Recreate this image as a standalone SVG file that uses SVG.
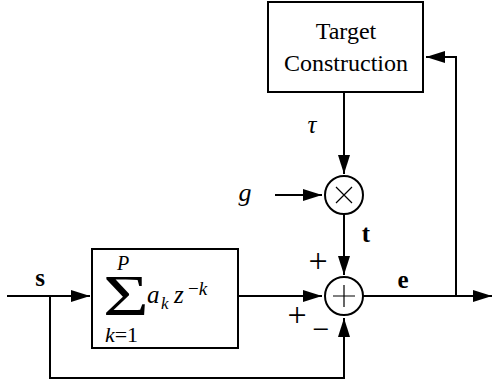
<svg xmlns="http://www.w3.org/2000/svg" width="493" height="385" viewBox="0 0 493 385">
<style>
.box{fill:#fff;stroke:#000;stroke-width:2}
.circ{fill:#fff;stroke:#000;stroke-width:2}
.thin{stroke:#000;stroke-width:1.2;fill:none}
.wire{stroke:#000;stroke-width:2;fill:none}
.arr{marker-end:url(#ah)}
text{font-family:'Liberation Serif','Times New Roman','DejaVu Serif',serif;fill:#000}
.i{font-style:italic}
.b{font-weight:bold}
</style>
<defs>
<marker id="ah" markerUnits="userSpaceOnUse" markerWidth="20" markerHeight="14" refX="19" refY="6" orient="auto">
<path d="M0,0 L19,6 L0,12 Z" fill="#000"/>
</marker>
</defs>
<rect width="493" height="385" fill="#fff"/>
<g id="connectors">
<line class="wire arr" x1="344" y1="92" x2="344" y2="174"/>
<line class="wire arr" x1="275" y1="195" x2="322" y2="195"/>
<line class="wire arr" x1="344" y1="214" x2="344" y2="275"/>
<line class="wire arr" x1="7" y1="296" x2="90" y2="296"/>
<line class="wire arr" x1="238" y1="296" x2="322" y2="296"/>
<line class="wire arr" x1="363" y1="296" x2="492" y2="296"/>
<polyline class="wire arr" points="456,296 456,57 426,57"/>
<polyline class="wire arr" points="50,296 50,378 344,378 344,318"/>
</g>
<g id="target">
<rect class="box" x="268" y="2" width="155" height="90"/>
<text x="346" y="39" font-size="24" text-anchor="middle">Target</text>
<text x="346" y="71" font-size="24" text-anchor="middle">Construction</text>
</g>
<g id="mult">
<circle class="circ" cx="344" cy="195" r="19"/>
<path class="thin" d="M336,187 L352,203 M352,187 L336,203"/>
</g>
<g id="sum">
<circle class="circ" cx="344" cy="296" r="19"/>
<path class="thin" d="M333,296 L355,296 M344,285 L344,307"/>
</g>
<g id="predictor">
<rect class="box" x="92" y="249" width="146" height="99"/>
<text transform="translate(103,315) scale(1.38,1)" font-size="57">Σ</text>
<text class="i" x="123" y="270" font-size="20" text-anchor="middle">P</text>
<text x="121.5" y="342" font-size="22" text-anchor="middle"><tspan font-style="italic">k</tspan>=1</text>
<text class="i" x="147" y="303" font-size="25">a</text>
<text class="i" x="161" y="309" font-size="17">k</text>
<text class="i" x="174" y="303" font-size="25">z</text>
<text x="188" y="295" font-size="19">−<tspan font-style="italic">k</tspan></text>
</g>
<g id="labels">
<text class="i" x="312" y="133" font-size="25" text-anchor="middle">τ</text>
<text class="i" x="245" y="201" font-size="26" text-anchor="middle">g</text>
<text class="b" x="366" y="242" font-size="25" text-anchor="middle">t</text>
<text class="b" x="403" y="288" font-size="25" text-anchor="middle">e</text>
<text class="b" x="40" y="286" font-size="25" text-anchor="middle">s</text>
<text x="318" y="272" font-size="34" text-anchor="middle">+</text>
<text x="297" y="326" font-size="34" text-anchor="middle">+</text>
<text x="321" y="339" font-size="30" text-anchor="middle">−</text>
</g>
</svg>
